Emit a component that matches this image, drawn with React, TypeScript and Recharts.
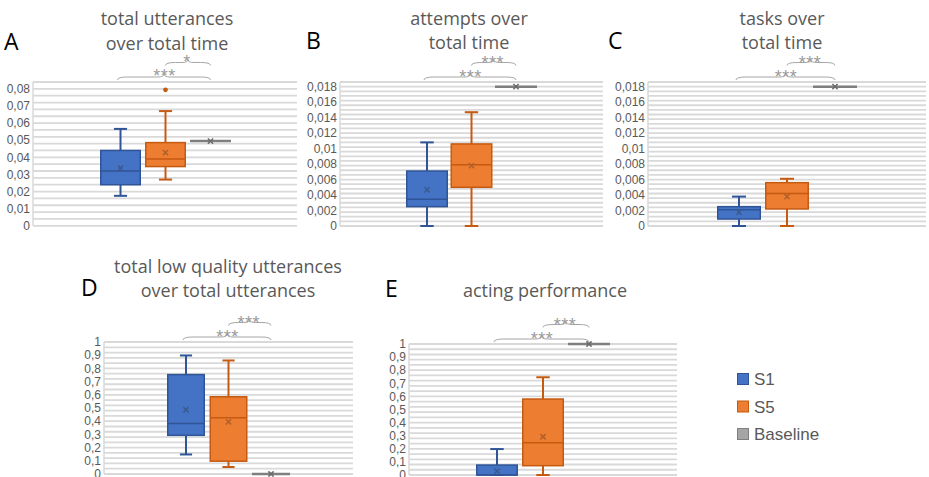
import { ComposedChart, Bar, XAxis, YAxis, CartesianGrid } from "recharts";

// box stats are [min, q1, median, q3, max, mean]
const seriesNames = ["S1", "S5", "Baseline"];

const utterS1 = [0.0175, 0.024, 0.032, 0.044, 0.0566, 0.0337];
const utterS5 = [0.027, 0.0346, 0.039, 0.0486, 0.067, 0.0428];
const utterS5Outliers = [0.0794];
const utterBaseline = 0.0495;

const attemptsS1 = [0, 0.0025, 0.00345, 0.0071, 0.0108, 0.00466];
const attemptsS5 = [0, 0.005, 0.0079, 0.0106, 0.0147, 0.0078];
const attemptsBaseline = 0.018;

const tasksS1 = [0, 0.0009, 0.0021, 0.0025, 0.0038, 0.0018];
const tasksS5 = [0, 0.0022, 0.0042, 0.0056, 0.0061, 0.0038];
const tasksBaseline = 0.018;

const lowQualS1 = [0.148, 0.293, 0.382, 0.753, 0.898, 0.486];
const lowQualS5 = [0.053, 0.097, 0.427, 0.585, 0.86, 0.395];
const lowQualBaseline = 0;

const actingS1 = [0, 0, 0, 0.076, 0.198, 0.03];
const actingS5 = [0, 0.071, 0.247, 0.58, 0.746, 0.292];
const actingBaseline = 1;

const sigA = ["***", "*"];
const sigOther = ["***", "***"];

const ticksA = [0, 0.01, 0.02, 0.03, 0.04, 0.05, 0.06, 0.07, 0.08];
const ticksBC = [0, 0.002, 0.004, 0.006, 0.008, 0.01, 0.012, 0.014, 0.016, 0.018];
const ticksDE = [0, 0.1, 0.2, 0.3, 0.4, 0.5, 0.6, 0.7, 0.8, 0.9, 1];

const COLORS: Record<string, { fill: string; stroke: string; mark: string }> = {
  S1: { fill: "#4472C4", stroke: "#2F5597", mark: "#3A5A8C" },
  S5: { fill: "#ED7D31", stroke: "#C55A11", mark: "#B0602A" },
  Baseline: { fill: "#A5A5A5", stroke: "#7F7F7F", mark: "#6A6A6A" },
};

const fmt = (v: number) => String(v).replace(".", ",");

function Cross({ cx, cy, c }: { cx: number; cy: number; c: string }) {
  const s = 2.6;
  return (
    <g stroke={c} strokeWidth={1.5}>
      <line x1={cx - s} y1={cy - s} x2={cx + s} y2={cy + s} />
      <line x1={cx - s} y1={cy + s} x2={cx + s} y2={cy - s} />
    </g>
  );
}

function Brace({ x1, x2, yl }: { x1: number; x2: number; yl: number }) {
  const xm = (x1 + x2) / 2;
  const d = `M${x1},${yl + 3} Q${x1},${yl} ${x1 + 10},${yl} L${xm - 6},${yl} Q${xm},${yl} ${xm},${yl - 3} Q${xm},${yl} ${xm + 6},${yl} L${x2 - 10},${yl} Q${x2},${yl} ${x2},${yl + 3}`;
  return <path d={d} fill="none" stroke="#A6A6A6" strokeWidth={1} />;
}

function BoxShape(props: any) {
  const { x, y, width, height, stats, outliers, name, brace } = props;
  if (x == null || y == null) return null;
  const [min, q1, med, q3, max, mean] = stats;
  const top = Math.min(y, y + height);
  const bot = Math.max(y, y + height);
  const py = (v: number) => (max === min ? y : bot - ((v - min) / (max - min)) * (bot - top));
  const cx = x + width / 2;
  const c = COLORS[name];

  if (name === "Baseline") {
    const step = brace.step;
    const pt = brace.plotTop;
    return (
      <g>
        <line x1={x} x2={x + width} y1={py(med)} y2={py(med)} stroke={c.stroke} strokeWidth={2.5} />
        <Cross cx={cx} cy={py(mean)} c={c.mark} />
        <Brace x1={cx - 2 * step - 3} x2={cx} yl={pt - 5} />
        <Brace x1={cx - step} x2={cx} yl={pt - 19.5} />
        <text x={cx - step - 1} y={pt + 0.5} textAnchor="middle" fontSize={18} letterSpacing={0.5} fill="#9A9A9A" fontFamily="Liberation Sans, Arial">
          {brace.labels[0]}
        </text>
        <text x={cx - step / 2 - 1} y={pt - 13.5} textAnchor="middle" fontSize={18} letterSpacing={0.5} fill="#9A9A9A" fontFamily="Liberation Sans, Arial">
          {brace.labels[1]}
        </text>
      </g>
    );
  }

  const cap = width * 0.16;
  return (
    <g>
      <line x1={cx} x2={cx} y1={py(max)} y2={py(q3)} stroke={c.stroke} strokeWidth={2} />
      <line x1={cx} x2={cx} y1={py(q1)} y2={py(min)} stroke={c.stroke} strokeWidth={2} />
      <line x1={cx - cap} x2={cx + cap} y1={py(max)} y2={py(max)} stroke={c.stroke} strokeWidth={2} />
      <line x1={cx - cap} x2={cx + cap} y1={py(min)} y2={py(min)} stroke={c.stroke} strokeWidth={2} />
      <rect
        x={x + 0.75}
        y={py(q3)}
        width={width - 1.5}
        height={Math.max(py(q1) - py(q3), 0.5)}
        fill={c.fill}
        stroke={c.stroke}
        strokeWidth={1.5}
      />
      <line x1={x + 0.75} x2={x + width - 0.75} y1={py(med)} y2={py(med)} stroke={c.stroke} strokeWidth={1.5} />
      <Cross cx={cx} cy={py(mean)} c={c.mark} />
      {(outliers || []).map((o: number, i: number) => (
        <circle key={i} cx={cx} cy={py(o)} r={2.4} fill={c.stroke} />
      ))}
    </g>
  );
}

type PanelProps = {
  left: number;
  right: number;
  top: number;
  bottom: number;
  yW: number;
  domainMax: number;
  ticks: number[];
  gridStep: number;
  barSize: number;
  gap: number;
  s1: number[];
  s5: number[];
  base: number;
  s5Outliers?: number[];
  labels: string[];
};

function Panel(p: PanelProps) {
  const padTop = 34;
  const padBot = 10;
  const width = p.yW + (p.right - p.left) + 2;
  const height = padTop + (p.bottom - p.top) + padBot;
  const statsMap: Record<string, number[]> = {
    S1: p.s1,
    S5: p.s5,
    Baseline: [p.base, p.base, p.base, p.base, p.base, p.base],
  };
  const row: any = { name: "all" };
  seriesNames.forEach((n) => {
    row[n] = [statsMap[n][0], statsMap[n][4]];
  });
  const n = Math.round(p.domainMax / p.gridStep);
  const grid = Array.from({ length: n + 1 }, (_, i) => +(i * p.gridStep).toFixed(6));
  if (grid[grid.length - 1] < p.domainMax) grid.push(p.domainMax);

  return (
    <div style={{ position: "absolute", left: p.left - p.yW, top: p.top - padTop }}>
      <ComposedChart
        width={width}
        height={height}
        data={[row]}
        margin={{ top: padTop, right: 2, bottom: padBot, left: 0 }}
        barSize={p.barSize}
        barGap={p.gap}
      >
        <CartesianGrid vertical={false} horizontalValues={grid} stroke="#D9D9D9" strokeWidth={1.8} />
        <XAxis dataKey="name" type="category" hide />
        <YAxis
          type="number"
          domain={[0, p.domainMax]}
          ticks={p.ticks}
          interval={0}
          width={p.yW}
          tickLine={false}
          tickSize={0}
          tickMargin={3}
          axisLine={{ stroke: "#D9D9D9", strokeWidth: 1.5 }}
          tick={{ fill: "#595959", fontSize: 12, fontFamily: "Liberation Sans, Arial" }}
          tickFormatter={fmt}
        />
        {seriesNames.map((name) => (
          <Bar
            key={name}
            dataKey={name}
            isAnimationActive={false}
            fill={COLORS[name].fill}
            shape={(sp: any) => (
              <BoxShape
                {...sp}
                name={name}
                stats={statsMap[name]}
                outliers={name === "S5" ? p.s5Outliers : undefined}
                brace={{ step: p.barSize + p.gap, plotTop: padTop, labels: p.labels }}
              />
            )}
          />
        ))}
      </ComposedChart>
    </div>
  );
}

const titleStyle = { fontFamily: "Open Sans", fontSize: 18, fill: "#595959" };
const letterStyle = { fontFamily: "Open Sans", fontSize: 23, fill: "#000000" };

export default function App() {
  return (
    <div
      style={{
        position: "fixed",
        left: 0,
        top: 0,
        width: 929,
        height: 477,
        overflow: "hidden",
        background: "#fff",
      }}
    >
      <Panel left={33} right={297} top={82.2} bottom={226} yW={33} domainMax={0.084} ticks={ticksA} gridStep={0.004}
        barSize={41} gap={4} s1={utterS1} s5={utterS5} base={utterBaseline} s5Outliers={utterS5Outliers} labels={sigA} />
      <Panel left={340} right={603} top={82} bottom={226} yW={40} domainMax={0.0186} ticks={ticksBC} gridStep={0.0006}
        barSize={42} gap={2.5} s1={attemptsS1} s5={attemptsS5} base={attemptsBaseline} labels={sigOther} />
      <Panel left={648} right={926} top={82} bottom={226} yW={40} domainMax={0.0186} ticks={ticksBC} gridStep={0.0006}
        barSize={44} gap={4} s1={tasksS1} s5={tasksS5} base={tasksBaseline} labels={sigOther} />
      <Panel left={104} right={353} top={342} bottom={474} yW={30} domainMax={1} ticks={ticksDE} gridStep={0.04}
        barSize={38} gap={4.5} s1={lowQualS1} s5={lowQualS5} base={lowQualBaseline} labels={sigOther} />
      <Panel left={409} right={677} top={344} bottom={475} yW={30} domainMax={1} ticks={ticksDE} gridStep={0.04}
        barSize={42} gap={4} s1={actingS1} s5={actingS5} base={actingBaseline} labels={sigOther} />

      <svg width={929} height={477} style={{ position: "absolute", left: 0, top: 0, pointerEvents: "none" }}>
        <text x={4} y={50} style={letterStyle}>A</text>
        <text x={306} y={49} style={letterStyle}>B</text>
        <text x={608} y={49} style={letterStyle}>C</text>
        <text x={81} y={296} style={letterStyle}>D</text>
        <text x={385} y={297} style={letterStyle}>E</text>

        <text x={167} y={25} textAnchor="middle" style={titleStyle}>total utterances</text>
        <text x={167} y={50} textAnchor="middle" style={titleStyle}>over total time</text>
        <text x={469} y={25} textAnchor="middle" style={titleStyle}>attempts over</text>
        <text x={469} y={49} textAnchor="middle" style={titleStyle}>total time</text>
        <text x={782} y={25} textAnchor="middle" style={titleStyle}>tasks over</text>
        <text x={782} y={49} textAnchor="middle" style={titleStyle}>total time</text>
        <text x={228} y={273} textAnchor="middle" style={titleStyle}>total low quality utterances</text>
        <text x={228} y={297} textAnchor="middle" style={titleStyle}>over total utterances</text>
        <text x={545} y={297} textAnchor="middle" style={titleStyle}>acting performance</text>

        {seriesNames.map((n, i) => (
          <g key={n}>
            <rect x={737.5} y={373.5 + i * 27.5} width={11} height={11} fill={COLORS[n].fill} stroke={COLORS[n].stroke} strokeWidth={1} />
            <text x={754} y={385 + i * 27.5} fontSize={17} fill="#595959" fontFamily="Liberation Sans, Arial">
              {n}
            </text>
          </g>
        ))}
      </svg>
    </div>
  );
}
